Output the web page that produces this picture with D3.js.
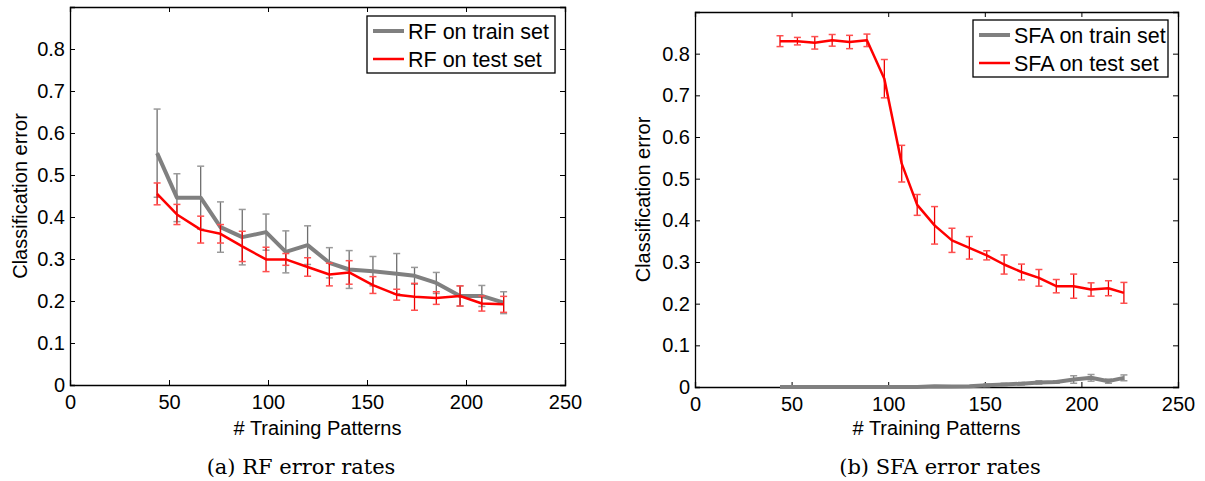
<html>
<head>
<script src="https://cdnjs.cloudflare.com/ajax/libs/d3/7.8.5/d3.min.js"></script>
<style>
body { margin: 0; background: white; }
#canvas { background-color: white; font-family: "Liberation Sans", Arial, sans-serif; }
</style>
</head>
<body>
<svg id="canvas" width="1205" height="481"></svg>
<script>
// --- data ---
var xTicks = [0, 50, 100, 150, 200, 250];
var yTicks = [0, 0.1, 0.2, 0.3, 0.4, 0.5, 0.6, 0.7, 0.8];

// (a) RF
var rfX = [44, 54, 66, 76, 87, 99, 109, 120, 131, 141, 153, 165, 174, 185, 197, 208, 219];
var rfTrain    = [0.552, 0.446, 0.446, 0.376, 0.352, 0.364, 0.317, 0.333, 0.291, 0.275, 0.271, 0.265, 0.260, 0.243, 0.212, 0.212, 0.196];
var rfTrainErr = [0.105, 0.057, 0.075, 0.060, 0.066, 0.043, 0.050, 0.046, 0.036, 0.045, 0.035, 0.048, 0.020, 0.025, 0.024, 0.025, 0.026];
var rfTest     = [0.455, 0.406, 0.370, 0.360, 0.330, 0.299, 0.299, 0.281, 0.263, 0.268, 0.238, 0.215, 0.210, 0.207, 0.212, 0.194, 0.192];
var rfTestErr  = [0.026, 0.024, 0.032, 0.022, 0.036, 0.029, 0.014, 0.022, 0.027, 0.028, 0.020, 0.013, 0.032, 0.015, 0.024, 0.018, 0.019];

// (b) SFA
var sfaX = [44, 53, 62, 71, 80, 89, 98, 107, 115, 124, 133, 142, 151, 160, 169, 178, 187, 196, 205, 214, 222];
var sfaTrain    = [0, 0, 0, 0, 0, 0, 0, 0, 0, 0.002, 0.001, 0.002, 0.004, 0.006, 0.008, 0.011, 0.012, 0.018, 0.022, 0.014, 0.022];
var sfaTrainErr = [0, 0, 0, 0, 0, 0, 0, 0, 0, 0.001, 0.001, 0.001, 0.003, 0.003, 0.003, 0.004, 0.003, 0.009, 0.008, 0.005, 0.007];
var sfaTest     = [0.830, 0.830, 0.826, 0.832, 0.828, 0.832, 0.740, 0.536, 0.437, 0.388, 0.352, 0.334, 0.316, 0.294, 0.276, 0.262, 0.242, 0.242, 0.234, 0.237, 0.226];
var sfaTestErr  = [0.013, 0.009, 0.015, 0.014, 0.016, 0.015, 0.046, 0.044, 0.025, 0.045, 0.029, 0.027, 0.011, 0.023, 0.019, 0.020, 0.016, 0.029, 0.016, 0.018, 0.025];

var svg = d3.select("#canvas");
var sans = "Liberation Sans, Arial, sans-serif";

function drawPanel(opt) {
    var x = d3.scaleLinear().domain([0, 250]).range([opt.left, opt.right]);
    var y = d3.scaleLinear().domain([0, 0.9]).range([opt.bottom, opt.top]);
    var g = svg.append("g");

    // axes box with inward ticks on all four sides
    var tl = 5;
    g.append("g").attr("transform", "translate(0," + opt.bottom + ")")
        .call(d3.axisBottom(x).tickValues(xTicks).tickSize(-tl).tickPadding(10).tickFormat(d3.format("d")));
    g.append("g").attr("transform", "translate(0," + opt.top + ")")
        .call(d3.axisTop(x).tickValues(xTicks).tickSize(-tl).tickFormat(""));
    g.append("g").attr("transform", "translate(" + opt.left + ",0)")
        .call(d3.axisLeft(y).tickValues(yTicks).tickSize(-tl).tickPadding(5).tickFormat(function(d) { return d === 0 ? "0" : d3.format(".1f")(d); }));
    g.append("g").attr("transform", "translate(" + opt.right + ",0)")
        .call(d3.axisRight(y).tickValues(yTicks).tickSize(-tl).tickFormat(""));
    g.selectAll(".domain").attr("stroke", "#000").attr("stroke-width", 1.3);
    g.selectAll(".tick line").attr("stroke", "#000");
    g.selectAll(".tick text").attr("font-size", 20).attr("fill", "#000").attr("font-family", sans);

    function series(xs, vals, errs, lineColor, lineWidth, barColor, capColor) {
        var capW = 3.5;
        var eb = g.append("g");
        xs.forEach(function(xv, i) {
            var cx = x(xv), t = y(vals[i] + errs[i]), b = y(vals[i] - errs[i]);
            if (errs[i] <= 0) return;
            eb.append("line").attr("x1", cx).attr("x2", cx).attr("y1", t).attr("y2", b)
                .attr("stroke", barColor).attr("stroke-width", 1.3);
            [t, b].forEach(function(yy) {
                eb.append("line").attr("x1", cx - capW).attr("x2", cx + capW).attr("y1", yy).attr("y2", yy)
                    .attr("stroke", capColor).attr("stroke-width", 1.5);
            });
        });
        var line = d3.line().x(function(d) { return x(d[0]); }).y(function(d) { return y(d[1]); });
        g.append("path").datum(xs.map(function(xv, i) { return [xv, vals[i]]; }))
            .attr("d", line).attr("fill", "none").attr("stroke", lineColor)
            .attr("stroke-width", lineWidth).attr("stroke-linejoin", "round");
    }
    series(opt.x, opt.train, opt.trainErr, "#808080", 4, "#6e6e6e", "#9a9a9a");
    series(opt.x, opt.test, opt.testErr, "#ff0000", 2.5, "#ee0000", "#ff5050");

    // labels
    g.append("text").attr("x", (opt.left + opt.right) / 2).attr("y", 435)
        .attr("text-anchor", "middle").attr("font-size", 20).attr("font-family", sans).text("# Training Patterns");
    g.append("text").attr("transform", "translate(" + opt.ylabX + "," + ((opt.top + opt.bottom) / 2) + ") rotate(-90)")
        .attr("text-anchor", "middle").attr("font-size", 20).attr("font-family", sans).text("Classification error");
    g.append("text").attr("x", opt.capX).attr("y", 474)
        .attr("text-anchor", "middle").attr("font-size", 21)
        .attr("font-family", "DejaVu Serif, serif").text(opt.caption);

    // legend
    var L = opt.legend;
    g.append("rect").attr("x", L.x).attr("y", L.y).attr("width", L.w).attr("height", L.h)
        .attr("fill", "white").attr("stroke", "#000").attr("stroke-width", 1.3);
    [[opt.names[0], "#808080", 4], [opt.names[1], "#ff0000", 2.5]].forEach(function(it, i) {
        var yy = L.y + 15 + i * 28;
        g.append("line").attr("x1", L.x + 6).attr("x2", L.x + 37).attr("y1", yy).attr("y2", yy)
            .attr("stroke", it[1]).attr("stroke-width", it[2]);
        g.append("text").attr("x", L.x + 41).attr("y", yy + 8).attr("font-size", 21.5).attr("font-family", sans).text(it[0]);
    });
}

drawPanel({
    left: 70, right: 565, top: 7, bottom: 385, ylabX: 27, capX: 301,
    x: rfX, train: rfTrain, trainErr: rfTrainErr, test: rfTest, testErr: rfTestErr,
    names: ["RF on train set", "RF on test set"], caption: "(a)  RF error rates",
    legend: { x: 367, y: 16, w: 188, h: 57 }
});
drawPanel({
    left: 695, right: 1178, top: 12, bottom: 387, ylabX: 650, capX: 940,
    x: sfaX, train: sfaTrain, trainErr: sfaTrainErr, test: sfaTest, testErr: sfaTestErr,
    names: ["SFA on train set", "SFA on test set"], caption: "(b)  SFA error rates",
    legend: { x: 973, y: 20, w: 195, h: 57 }
});
</script>
</body>
</html>
